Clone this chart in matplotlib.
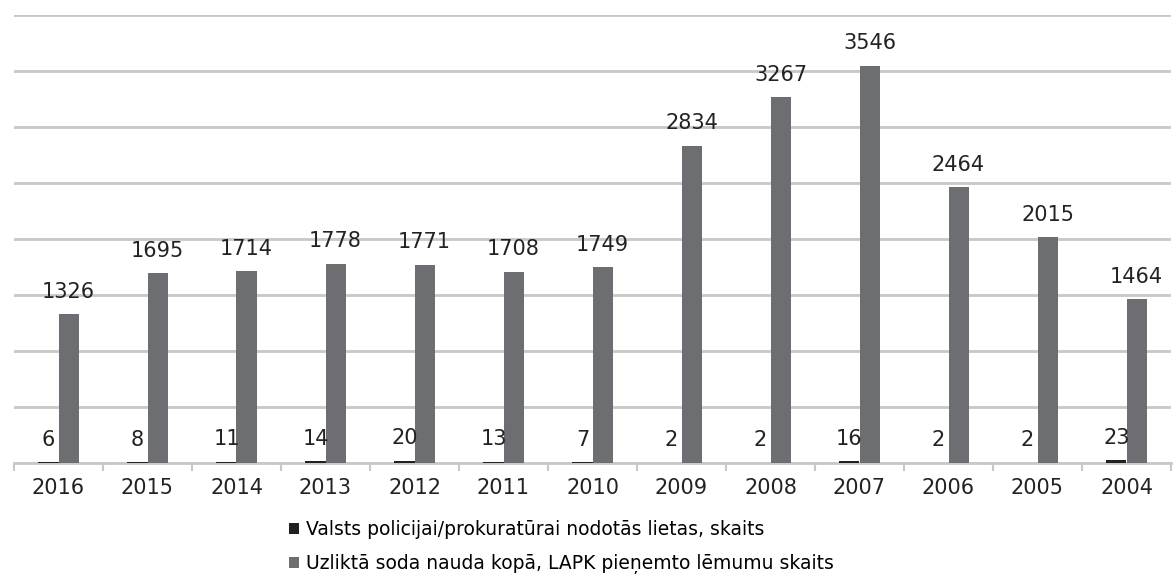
import matplotlib
matplotlib.use('Agg')
import matplotlib.pyplot as plt
import numpy as np

# Data.
years = ['2016', '2015', '2014', '2013', '2012', '2011', '2010',
         '2009', '2008', '2007', '2006', '2005', '2004']
cases = [6, 8, 11, 14, 20, 13, 7, 2, 2, 16, 2, 2, 23]
fines = [1326, 1695, 1714, 1778, 1771, 1708, 1749,
         2834, 3267, 3546, 2464, 2015, 1464]
label_cases = 'Valsts policijai/prokuratūrai nodotās lietas, skaits'
label_fines = 'Uzliktā soda nauda kopā, LAPK pieņemto lēmumu skaits'

plt.rcParams['font.family'] = ['DejaVu Sans']

fig = plt.figure(figsize=(11.73, 5.81), dpi=100)
ax = fig.add_axes([14 / 1173, 1 - 463 / 581, 1157 / 1173, 448 / 581])

x = np.arange(len(years))
w = 0.225
b1 = ax.bar(x - w / 2, cases, w, color='#231f20', label=label_cases, zorder=3)
b2 = ax.bar(x + w / 2, fines, w, color='#6d6e71', label=label_fines, zorder=3)

# Value labels above each bar.
for bars, vals in ((b1, cases), (b2, fines)):
    for rect, v in zip(bars, vals):
        ax.annotate(str(v), (rect.get_x() + rect.get_width() / 2, rect.get_height()),
                    xytext=(0, 9), textcoords='offset points',
                    ha='center', va='bottom', fontsize=15, color='#222222')

ax.set_xlim(-0.5, len(years) - 0.5)
ax.set_ylim(0, 4000)
ax.set_yticks(np.arange(0, 4001, 500))
ax.yaxis.grid(True, color='#c8c8c8', linewidth=2)
ax.tick_params(axis='y', left=False, labelleft=False)

ax.set_xticks(x)
ax.set_xticklabels(years, fontsize=15, color='#222222')
ax.tick_params(axis='x', length=0, pad=11)
ax.set_xticks(np.arange(-0.5, len(years), 1), minor=True)
ax.tick_params(axis='x', which='minor', length=6, width=1.5, color='#c8c8c8')

for side in ('top', 'right', 'left'):
    ax.spines[side].set_visible(False)
ax.spines['bottom'].set_color('#c8c8c8')
ax.spines['bottom'].set_linewidth(2)

fig.legend(handles=[b1, b2], loc='upper left',
           bbox_to_anchor=(289 / 1173, 1 - 520 / 581), frameon=False,
           fontsize=13.5, handlelength=0.55, handleheight=0.55,
           handletextpad=0.35, labelspacing=0.8, borderpad=0, borderaxespad=0)

fig.savefig('out.png', dpi=100)
